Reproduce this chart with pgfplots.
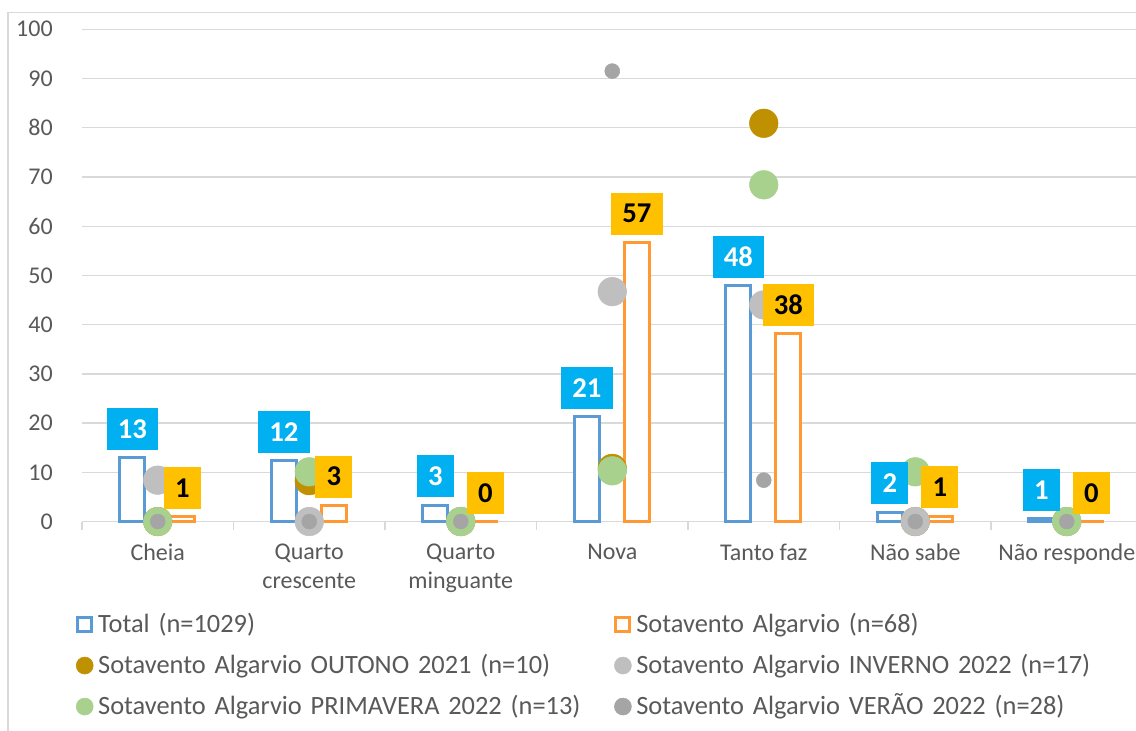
\documentclass[border=0pt]{standalone}
\usepackage{fontspec}
\setmainfont{Carlito}
\usepackage{pgfplots}
\pgfplotsset{compat=1.18}
\definecolor{barblue}{HTML}{5B9BD5}
\definecolor{barorange}{HTML}{FF9933}
\definecolor{labblue}{HTML}{00B0F0}
\definecolor{labyel}{HTML}{FFC000}
\definecolor{cgold}{HTML}{BF9000}
\definecolor{clgray}{HTML}{BFBFBF}
\definecolor{cgreen}{HTML}{A9D18E}
\definecolor{cdgray}{HTML}{A5A5A5}
\definecolor{textc}{HTML}{595959}
\definecolor{gridc}{HTML}{D9D9D9}
\pgfplotsset{
  sqlegend/.style={legend image code/.code={\path[draw=none,fill=none] (0pt,-6.375pt) rectangle (12.75pt,6.375pt);
      \draw[line width=2.25pt, fill=white] (1.125pt,-5.25pt) rectangle (11.625pt,5.25pt);}},
  circlegend/.style={legend image code/.code={\path[draw=none,fill=none] (0pt,-6.375pt) rectangle (12.75pt,6.375pt);
      \fill (6.375pt,0pt) circle (6.375pt);}},
}
\tikzset{
  lab/.style={fill=#1, font=\bfseries\fontsize{21.5}{25}\selectfont, inner xsep=8.4pt, inner ysep=0pt,
      minimum height=31.5pt, anchor=south, yshift=5.6pt},
}
\begin{document}
\begin{tikzpicture}
\useasboundingbox (0,0) rectangle (852pt,548.25pt);
\fill[white] (0,0) rectangle (852pt,548.25pt);
\draw[gridc, line width=0.9pt] (6pt,-10pt) -- (6pt,538.7pt) -- (870pt,538.7pt);
\begin{axis}[
  scale only axis, width=795.4pt, height=369.2pt,
  at={(61.5pt,157.1pt)}, anchor=south west,
  xmin=-0.5, xmax=6.5, ymin=0, ymax=100, clip=false,
  axis x line*=bottom, axis y line*=left,
  x axis line style={draw=gridc, line width=1pt},
  y axis line style={draw=none},
  ytick={0,10,...,100}, ymajorgrids, grid style={draw=gridc, line width=1pt},
  xtick={0,...,6},
  xticklabels={Cheia,{Quarto\\crescente},{Quarto\\minguante},Nova,Tanto faz,Não sabe,Não responde},
  minor xtick={-0.5,0.5,...,6.5},
  tick align=outside, major tick length=0pt, minor tick length=6pt,
  minor tick style={draw=gridc, line width=1pt},
  major tick style={draw=none},
  tick label style={font=\fontsize{18}{21.75}\selectfont, text=textc},
  yticklabel style={anchor=east, inner sep=0pt, xshift=-21.75pt},
  xticklabel style={align=center, anchor=north, inner sep=0pt, yshift=-16.5pt},
  /pgf/number format/assume math mode=true,
  legend columns=2, legend cell align=left,
  legend style={at={(axis description cs:-0.0057,-0.1822)}, anchor=north west,
    draw=none, fill=none, inner sep=0pt, outer sep=0pt,
    font=\fontsize{19.8}{24}\selectfont, text=textc, row sep=10.75pt,
    nodes={inner sep=0pt, text height=16pt, text depth=4pt, text width=375pt, align=left},
    /tikz/every odd column/.style={column sep=3.5pt},
    /tikz/every even column/.style={column sep=12pt}},
]
% bars
\addplot[ybar, bar width=18.75pt, bar shift=-19pt, draw=barblue, fill=white, line width=2.25pt, sqlegend]
  coordinates {(0,13.0) (1,12.3) (2,3.35) (3,21.3) (4,48.0) (5,1.9) (6,0.6)};
\addlegendentry{Total (n=1029)}
\addplot[ybar, bar width=18.75pt, bar shift=18.5pt, draw=barorange, fill=white, line width=2.25pt, sqlegend]
  coordinates {(0,1.0) (1,3.3) (2,0) (3,56.7) (4,38.2) (5,1.1) (6,0)};
\addlegendentry{Sotavento Algarvio (n=68)}
% seasons
\addplot[only marks, mark=*, color=cgold, mark size=10.7pt, circlegend]
  coordinates {(0,0) (1,8.3) (2,0) (3,10.8) (4,80.9) (5,0) (6,0)};
\addlegendentry{Sotavento Algarvio OUTONO 2021 (n=10)}
\addplot[only marks, mark=*, color=clgray, mark size=10.7pt, circlegend]
  coordinates {(0,8.4) (1,0) (2,0) (3,46.7) (4,44.0) (5,0) (6,0)};
\addlegendentry{Sotavento Algarvio INVERNO 2022 (n=17)}
\addplot[only marks, mark=*, color=cgreen, mark size=10.7pt, circlegend]
  coordinates {(0,0) (1,10.1) (2,0) (3,10.3) (4,68.4) (5,10.1) (6,0)};
\addlegendentry{Sotavento Algarvio PRIMAVERA 2022 (n=13)}
\addplot[only marks, mark=*, color=cdgray, mark size=5.6pt, circlegend]
  coordinates {(0,0) (1,0) (2,0) (3,91.5) (4,8.4) (5,0) (6,0)};
\addlegendentry{Sotavento Algarvio VERÃO 2022 (n=28)}
% data labels on top
\addplot[ybar, bar width=18.75pt, bar shift=-19pt, draw=none, fill=none, forget plot,
  point meta=explicit symbolic, nodes near coords,
  nodes near coords style={lab=labblue, text=white, xshift=-19pt}]
  coordinates {(0,13.0)[13] (1,12.3)[12] (2,3.35)[3] (3,21.3)[21] (4,48.0)[48] (5,1.9)[2] (6,0.6)[1]};
\addplot[ybar, bar width=18.75pt, bar shift=18.5pt, draw=none, fill=none, forget plot,
  point meta=explicit symbolic, nodes near coords,
  nodes near coords style={lab=labyel, text=black, xshift=18.5pt}]
  coordinates {(0,1.0)[1] (1,3.3)[3] (2,0)[0] (3,56.7)[57] (4,38.2)[38] (5,1.1)[1] (6,0)[0]};
\end{axis}
\end{tikzpicture}
\end{document}
